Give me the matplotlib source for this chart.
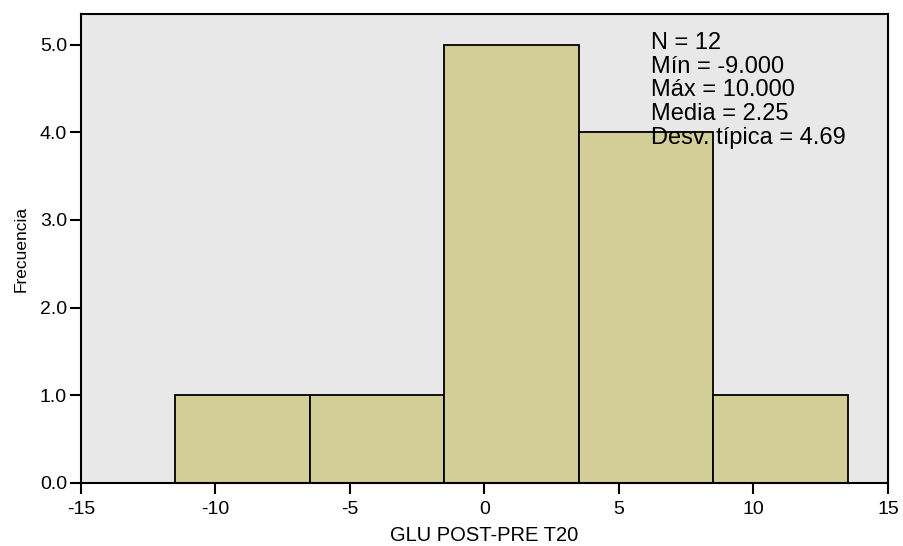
import numpy as np
import matplotlib.pyplot as plt

# Histogram bins and counts
bin_edges = [-11.5, -6.5, -1.5, 3.5, 8.5, 13.5]
counts = [1, 1, 5, 4, 1]
x_ticks = [-15, -10, -5, 0, 5, 10, 15]
y_ticks = [0.0, 1.0, 2.0, 3.0, 4.0, 5.0]
stats_lines = ['N = 12', 'Mín = -9.000', 'Máx = 10.000', 'Media = 2.25', 'Desv. típica = 4.69']

plt.rcParams['font.family'] = ['Liberation Sans', 'DejaVu Sans']

fig = plt.figure(figsize=(9.04, 5.46), dpi=100)
ax = fig.add_axes([0.0896, 0.1154, 0.8927, 0.859])
ax.set_facecolor('#e8e8e8')

lefts = np.array(bin_edges[:-1])
widths = np.diff(bin_edges)
ax.bar(lefts, counts, width=widths, align='edge', color='#d3ce98',
       edgecolor='black', linewidth=1.3)

ax.set_xlim(-15, 15)
ax.set_ylim(0, 5.35)
ax.set_xticks(x_ticks)
ax.set_xticklabels([str(t) for t in x_ticks])
ax.set_yticks(y_ticks)
ax.set_yticklabels([f'{t:.1f}' for t in y_ticks])
ax.tick_params(axis='both', direction='out', length=8, width=1.5, labelsize=14)
ax.tick_params(axis='x', pad=5)
ax.tick_params(axis='y', pad=2)

for s in ax.spines.values():
    s.set_linewidth(1.5)

ax.set_xlabel('GLU POST-PRE T20', fontsize=14.5, labelpad=6)
ax.set_ylabel('Frecuencia', fontsize=12.5, labelpad=8)

ax.text(0.706, 0.962, '\n'.join(stats_lines), transform=ax.transAxes,
        ha='left', va='top', fontsize=17, linespacing=1.1)

fig.savefig('out.png', dpi=100)
